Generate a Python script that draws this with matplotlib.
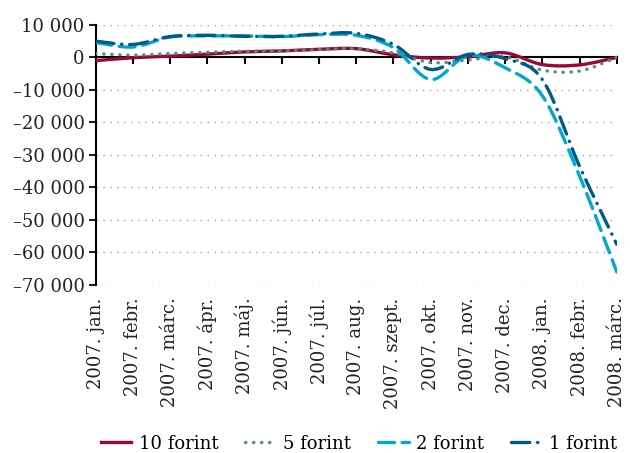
import numpy as np
import matplotlib.pyplot as plt
from matplotlib.path import Path
from matplotlib.patches import PathPatch
from matplotlib.lines import Line2D
from matplotlib.ticker import FuncFormatter

plt.rcParams['font.family'] = ['DejaVu Serif']

# Hónapok és az érmék forgalmi változása
honapok = ['2007. jan.', '2007. febr.', '2007. márc.', '2007. ápr.', '2007. máj.',
           '2007. jún.', '2007. júl.', '2007. aug.', '2007. szept.', '2007. okt.',
           '2007. nov.', '2007. dec.', '2008. jan.', '2008. febr.', '2008. márc.']
forint_10 = [-1000, -100, 400, 1000, 1700, 2000, 2500, 2700, 800, -200,
             200, 1400, -2200, -2300, 0]
forint_5 = [1200, 700, 1200, 1600, 1900, 2000, 2400, 2700, 1400, -1600,
            -800, 200, -3900, -4200, 0]
forint_2 = [4600, 3200, 6300, 6600, 6600, 6400, 7000, 6800, 3000, -6800,
            600, -3200, -11800, -36500, -66000]
forint_1 = [5000, 4000, 6400, 6800, 6500, 6500, 7200, 7400, 4000, -3700,
            900, -400, -6800, -33500, -57500]

sorozatok = [
    ('10 forint', forint_10, '#9b0a36', '-'),
    ('5 forint', forint_5, '#4d9474', (0, (0.1, 2.3))),
    ('2 forint', forint_2, '#00a9cc', (0, (4.8, 2.3))),
    ('1 forint', forint_1, '#005a88', (0, (5.5, 2.3, 0.1, 2.3))),
]


def simitott_ut(x, y):
    # Excel-szerű simított vonal: Catmull-Rom alapú Bezier-szakaszok
    p = np.column_stack([x, y]).astype(float)
    n = len(p)
    verts = [p[0]]
    codes = [Path.MOVETO]
    for i in range(n - 1):
        p0 = p[i - 1] if i > 0 else p[i]
        p3 = p[i + 2] if i + 2 < n else p[i + 1]
        c1 = p[i] + (p[i + 1] - p0) / 6
        c2 = p[i + 1] - (p3 - p[i]) / 6
        verts += [c1, c2, p[i + 1]]
        codes += [Path.CURVE4] * 3
    return Path(verts, codes)


fig = plt.figure(figsize=(6.3, 4.53), dpi=100)
ax = fig.add_axes([0.152, 0.371, 0.827, 0.574])

x = np.arange(len(honapok))
for nev, ertek, szin, stilus in sorozatok:
    patch = PathPatch(simitott_ut(x, ertek), facecolor='none', edgecolor=szin,
                      linewidth=2.4, linestyle=stilus, zorder=3)
    patch.set_capstyle('round')
    ax.add_patch(patch)

ax.set_xlim(0, len(honapok) - 1)
ax.set_ylim(-70000, 10000)
ax.set_yticks(np.arange(-70000, 10001, 10000))
ax.yaxis.set_major_formatter(FuncFormatter(
    lambda v, _: ('–' if v < 0 else '') + f'{abs(int(v)):,}'.replace(',', ' ')))
ax.tick_params(axis='y', direction='out', length=5, width=1.5, labelsize=13,
               colors='#222222', pad=3)
ax.grid(axis='y', color='#a0a0a0', linestyle=(0, (1, 4)), linewidth=1)
ax.set_axisbelow(True)

# vízszintes tengely a nullánál
ax.spines['bottom'].set_position(('data', 0))
ax.spines['bottom'].set_linewidth(1.5)
ax.spines['bottom'].set_zorder(2)
ax.set_xticks(x)
ax.tick_params(axis='x', direction='out', length=5, width=1.5, labelbottom=False)
ax.spines['left'].set_linewidth(1.5)
for s in ('top', 'right'):
    ax.spines[s].set_visible(False)

sec = ax.secondary_xaxis('bottom')
sec.set_xticks(x)
sec.set_xticklabels(honapok, rotation=90, fontsize=13, color='#222222')
sec.tick_params(length=0, pad=9)
sec.spines['bottom'].set_visible(False)

kezelok = [Line2D([], [], color=szin, linestyle=stilus, linewidth=2.4,
                  dash_capstyle='round') for _, _, szin, stilus in sorozatok]
fig.legend(kezelok, [s[0] for s in sorozatok], loc='lower center',
           bbox_to_anchor=(0.57, -0.035), ncol=4, frameon=False, fontsize=13,
           handlelength=1.7, handletextpad=0.4, columnspacing=1.5)

fig.savefig('out.png', dpi=100)
